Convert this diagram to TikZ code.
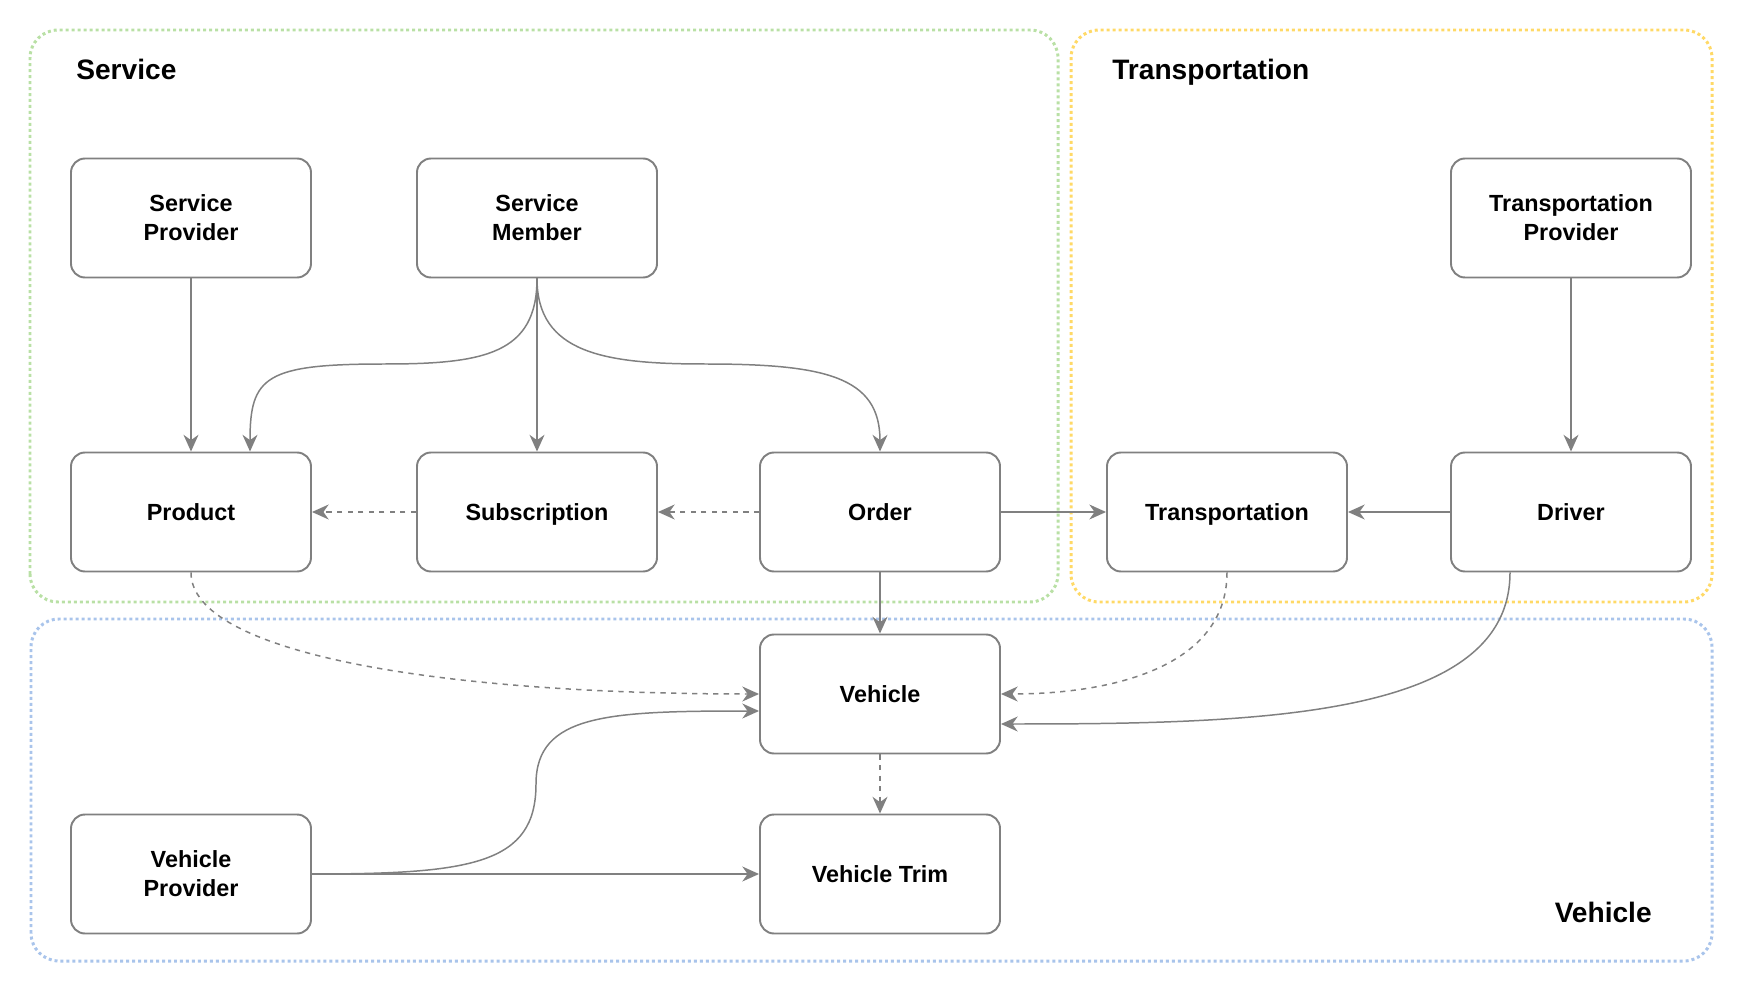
\documentclass[tikz,border=0pt]{standalone}
\usepackage{fontspec}
\setmainfont{Liberation Sans}
\usetikzlibrary{arrows.meta}
\definecolor{edgegray}{HTML}{808080}
\definecolor{servgreen}{HTML}{B9E0A5}
\definecolor{transyellow}{HTML}{FFD966}
\definecolor{vehblue}{HTML}{A9C4EB}
\tikzset{
  box/.style={draw=edgegray, fill=white, line width=1.1pt, rounded corners=0.28cm,
    minimum width=4.8cm, minimum height=2.38cm, align=center,
    font=\bfseries\fontsize{13.3}{16.5}\selectfont},
  onebox/.style={box, text depth=0pt},
  grp/.style={line width=1.7pt, dash pattern=on 1.7pt off 1.7pt, rounded corners=0.56cm},
  grptitle/.style={font=\bfseries\fontsize{16}{19}\selectfont, inner sep=0pt},
  link/.style={draw=edgegray, line width=0.85pt, -{Stealth[length=9.5pt,width=8.5pt,inset=3pt]}},
  dlink/.style={link, dash pattern=on 3pt off 3pt}
}
\begin{document}
\begin{tikzpicture}
\useasboundingbox (0,0) rectangle (35.16,20.08);
\draw[grp, servgreen] (0.6,8.04) rectangle (21.16,19.48);
\draw[grp, transyellow] (21.42,8.04) rectangle (34.24,19.48);
\draw[grp, vehblue] (0.62,0.86) rectangle (34.24,7.70);
\node[grptitle, anchor=base west] (servtitle) at (1.52,18.48) {Service};
\node[grptitle, anchor=base west] (transtitle) at (22.24,18.48) {Transportation};
\node[grptitle, anchor=base east] (vehtitle) at (33.04,1.64) {Vehicle};

\node[box] (sprov) at (3.82,15.72) {Service\\Provider};
\node[box] (smem) at (10.74,15.72) {Service\\Member};
\node[box] (tprov) at (31.42,15.72) {Transportation\\Provider};
\node[onebox] (prod) at (3.82,9.84) {Product};
\node[onebox] (subs) at (10.74,9.84) {Subscription};
\node[onebox] (ord) at (17.60,9.84) {Order};
\node[onebox] (trans) at (24.54,9.84) {Transportation};
\node[onebox] (drv) at (31.42,9.84) {Driver};
\node[onebox] (veh) at (17.60,6.20) {Vehicle};
\node[box] (vprov) at (3.82,2.60) {Vehicle\\Provider};
\node[onebox] (vtrim) at (17.60,2.60) {Vehicle Trim};

\draw[link] (sprov) -- (prod);
\draw[link] (smem.south) .. controls +(0,-1.5) and +(2.0,0) .. (7.7,12.8) .. controls +(-2.4,0) and +(0,1.5) .. ([xshift=1.18cm]prod.north);
\draw[link] (smem) -- (subs);
\draw[link] (smem.south) .. controls +(0,-1.5) and +(-2.0,0) .. (14.1,12.8) .. controls +(2.4,0) and +(0,1.5) .. (ord.north);
\draw[dlink] (subs) -- (prod);
\draw[dlink] (ord) -- (subs);
\draw[link] (ord) -- (trans);
\draw[link] (drv) -- (trans);
\draw[link] (tprov) -- (drv);
\draw[link] (ord) -- (veh);
\draw[dlink] (prod.south) .. controls +(0,-1.6) and +(-6.5,0) .. (veh.west);
\draw[dlink] (trans.south) .. controls +(0,-1.9) and +(2.2,0) .. (veh.east);
\draw[link] ([xshift=-1.22cm]drv.south) .. controls +(0,-2.9) and +(5.2,0) .. ([yshift=-0.6cm]veh.east);
\draw[link] (vprov.east) .. controls +(3.2,0) and +(0,-1.6) .. (10.72,4.4) .. controls +(0,1.4) and +(-3.0,0) .. ([yshift=-0.34cm]veh.west);
\draw[link] (vprov) -- (vtrim);
\draw[dlink] (veh) -- (vtrim);
\end{tikzpicture}
\end{document}
